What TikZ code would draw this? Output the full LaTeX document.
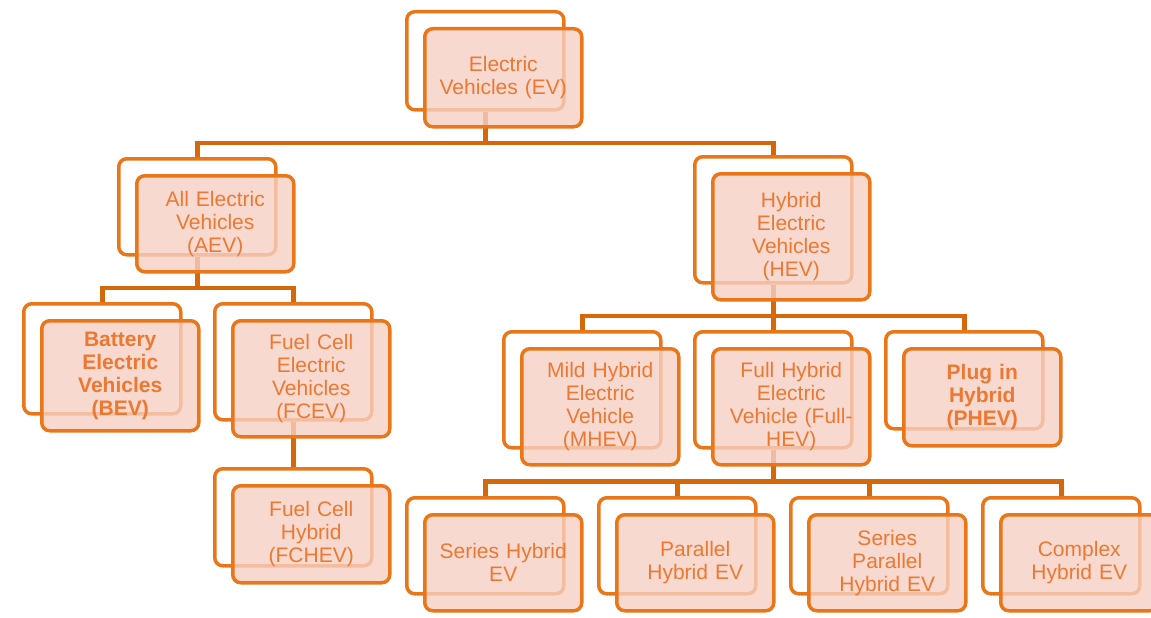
\documentclass[tikz,border=0pt]{standalone}
\usepackage{fontspec}
\setmainfont{Liberation Sans}
\usepackage{tikz}
\usetikzlibrary{positioning}
\usetikzlibrary{calc}
\definecolor{evorange}{RGB}{233,118,24}
\definecolor{evline}{RGB}{214,104,12}
\definecolor{evpink}{RGB}{246,208,195}
\definecolor{evtext}{RGB}{236,120,50}
\pgfdeclarelayer{background}
\pgfsetlayers{background,main}
\tikzset{
  back/.style={
    draw=evorange,fill=white,line width=3.5pt,rounded corners=8pt,
    anchor=north west,minimum width=157pt,minimum height=#1,inner sep=0pt,
  },
  front/.style 2 args={
    draw=evorange,fill=evpink,fill opacity=.8,text opacity=1,text=evtext,
    line width=3.5pt,rounded corners=8pt,minimum width=157pt,minimum height=#2,
    inner sep=0pt,text width=150pt,align=center,
    font=\fontsize{21}{23}\selectfont,
    below right=17pt and 18pt of #1.north west,
  },
  link/.style={draw=evline,line width=4.5pt},
}

\begin{document}
\begin{tikzpicture}[x=1pt,y=-1pt]
      \useasboundingbox (0,0) rectangle (1151,618);

      % back cards
      \begin{pgfonlayer}{background}
      \node[back=98pt] (ev-b) at (405,10) {};
      \node[back=96pt] (aev-b) at (117,157) {};
      \node[back=126pt] (hev-b) at (693,155) {};
      \node[back=110pt] (bev-b) at (22,302) {};
      \node[back=116pt] (fcev-b) at (213,302) {};
      \node[back=97pt] (fchev-b) at (213,467) {};
      \node[back=116pt] (mhev-b) at (502,330) {};
      \node[back=116pt] (fhev-b) at (693,330) {};
      \node[back=97pt] (phev-b) at (884,330) {};
      \node[back=96pt] (shev-b) at (405,496) {};
      \node[back=96pt] (phyb-b) at (597,496) {};
      \node[back=96pt] (sphev-b) at (789,496) {};
      \node[back=96pt] (chev-b) at (981,496) {};
      \end{pgfonlayer}

      % front cards
      \node[front={ev-b}{98pt}] (ev) {Electric\\Vehicles (EV)};
      \node[front={aev-b}{96pt}] (aev) {All Electric\\Vehicles\\(AEV)};
      \node[front={hev-b}{126pt}] (hev) {Hybrid\\Electric\\Vehicles\\(HEV)};
      \node[front={bev-b}{110pt},font=\fontsize{21}{23}\selectfont\bfseries] (bev) {Battery\\Electric\\Vehicles\\(BEV)};
      \node[front={fcev-b}{116pt}] (fcev) {Fuel Cell\\Electric\\Vehicles\\(FCEV)};
      \node[front={fchev-b}{97pt}] (fchev) {Fuel Cell\\Hybrid\\(FCHEV)};
      \node[front={mhev-b}{116pt}] (mhev) {Mild Hybrid\\Electric\\Vehicle\\(MHEV)};
      \node[front={fhev-b}{116pt}] (fhev) {Full Hybrid\\Electric\\Vehicle (Full-\\HEV)};
      \node[front={phev-b}{97pt},font=\fontsize{21}{23}\selectfont\bfseries] (phev) {Plug in\\Hybrid\\(PHEV)};
      \node[front={shev-b}{96pt}] (shev) {Series Hybrid\\EV};
      \node[front={phyb-b}{96pt}] (phyb) {Parallel\\Hybrid EV};
      \node[front={sphev-b}{96pt}] (sphev) {Series\\Parallel\\Hybrid EV};
      \node[front={chev-b}{96pt}] (chev) {Complex\\Hybrid EV};

      \coordinate (bar1) at ($(ev.south)!.5!(aev-b.north)$);
      \coordinate (bar2) at ($(aev.south)!.5!(bev-b.north)$);
      \coordinate (bar3) at ($(hev.south)!.5!(mhev-b.north)$);
      \coordinate (bar4) at ($(fhev.south)!.5!(shev-b.north)$);

      % tree lines, above the back cards but under the fronts
      \begin{pgfonlayer}{background}
      \draw[link] (ev-b.south) -- (ev-b.south |- bar1);
      \draw[link] (aev-b.north) |- (bar1) -| (hev-b.north);
      \draw[link] (aev-b.south) -- (aev-b.south |- bar2);
      \draw[link] (bev-b.north) |- (bar2) -| (fcev-b.north);
      \draw[link] (fcev-b.south) -- (fchev-b.north);
      \draw[link] (hev-b.south) -- (hev-b.south |- bar3);
      \draw[link] (mhev-b.north) |- (bar3) -| (phev-b.north);
      \draw[link] (fhev-b.north) -- (fhev-b.north |- bar3);
      \draw[link] (fhev-b.south) -- (fhev-b.south |- bar4);
      \draw[link] (shev-b.north) |- (bar4) -| (chev-b.north);
      \draw[link] (phyb-b.north) -- (phyb-b.north |- bar4);
      \draw[link] (sphev-b.north) -- (sphev-b.north |- bar4);
      \end{pgfonlayer}
\end{tikzpicture}
\end{document}
